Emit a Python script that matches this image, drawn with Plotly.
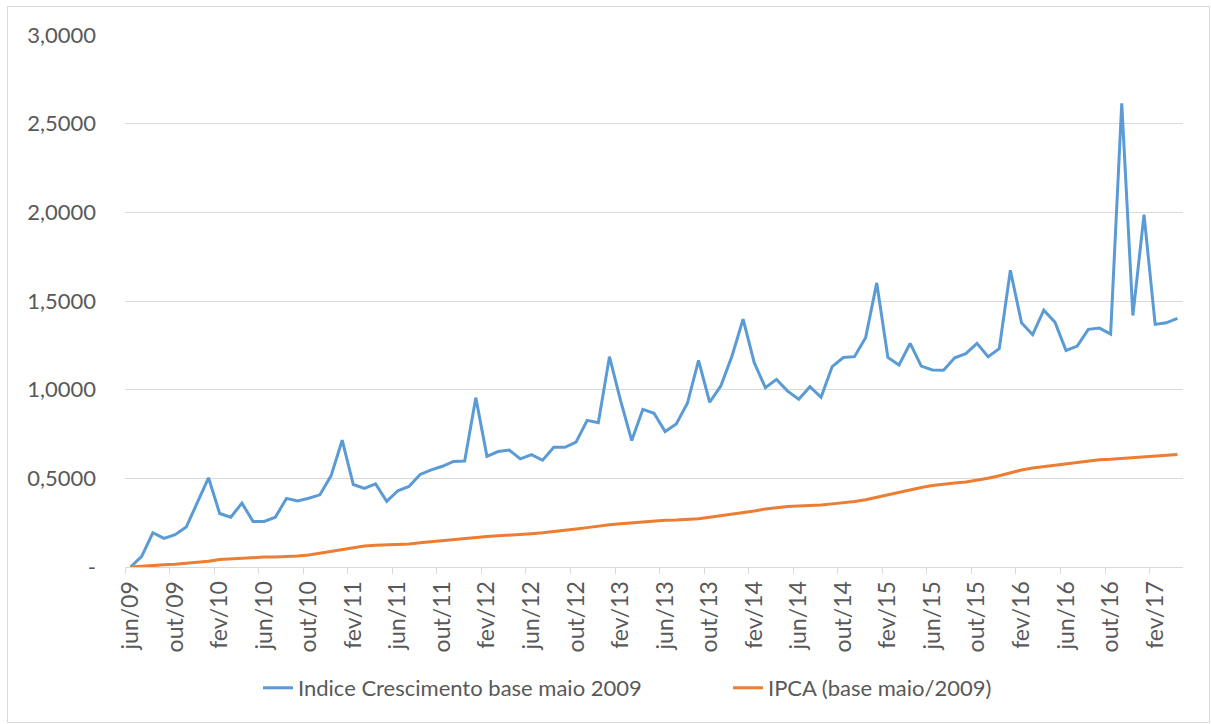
import plotly.graph_objects as go

months_pt = ["jan", "fev", "mar", "abr", "mai", "jun", "jul", "ago", "set", "out", "nov", "dez"]
years = ["09", "10", "11", "12", "13", "14", "15", "16", "17"]
# monthly categories from jun/09 to abr/17
categories = [f"{m}/{y}" for y in years for m in months_pt][5:5 + 95]

indice_crescimento = [
    0.000, 0.060, 0.193, 0.161, 0.182, 0.225, 0.364, 0.503, 0.302, 0.281,
    0.360, 0.257, 0.257, 0.281, 0.387, 0.373, 0.388, 0.407, 0.514, 0.715,
    0.465, 0.443, 0.469, 0.370, 0.430, 0.454, 0.522, 0.548, 0.568, 0.595,
    0.598, 0.955, 0.624, 0.651, 0.660, 0.610, 0.634, 0.602, 0.675, 0.675,
    0.704, 0.827, 0.814, 1.186, 0.938, 0.713, 0.889, 0.867, 0.764, 0.807,
    0.923, 1.165, 0.929, 1.021, 1.189, 1.398, 1.152, 1.011, 1.058, 0.992,
    0.946, 1.017, 0.957, 1.130, 1.181, 1.186, 1.293, 1.602, 1.182, 1.139,
    1.261, 1.133, 1.111, 1.109, 1.180, 1.203, 1.261, 1.186, 1.231, 1.673,
    1.377, 1.310, 1.448, 1.381, 1.221, 1.246, 1.340, 1.347, 1.313, 2.615,
    1.418, 1.987, 1.368, 1.377, 1.402,
]

ipca = [
    0.000, 0.005, 0.008, 0.012, 0.015, 0.020, 0.025, 0.033, 0.042, 0.046,
    0.050, 0.054, 0.056, 0.057, 0.058, 0.062, 0.068, 0.078, 0.088, 0.098,
    0.108, 0.118, 0.122, 0.124, 0.126, 0.130, 0.137, 0.143, 0.149, 0.156,
    0.163, 0.169, 0.172, 0.176, 0.179, 0.184, 0.188, 0.193, 0.199, 0.206,
    0.214, 0.222, 0.231, 0.238, 0.244, 0.250, 0.256, 0.261, 0.264, 0.265,
    0.267, 0.272, 0.280, 0.288, 0.297, 0.306, 0.316, 0.327, 0.335, 0.341,
    0.344, 0.346, 0.350, 0.356, 0.362, 0.369, 0.379, 0.393, 0.408, 0.424,
    0.437, 0.448, 0.459, 0.468, 0.474, 0.479, 0.488, 0.500, 0.515, 0.531,
    0.547, 0.558, 0.566, 0.575, 0.585, 0.592, 0.600, 0.605, 0.607, 0.611,
    0.614, 0.619, 0.624, 0.629, 0.634,
]

y_tickvals = [0, 0.5, 1.0, 1.5, 2.0, 2.5, 3.0]
y_ticktext = ["-", "0,5000", "1,0000", "1,5000", "2,0000", "2,5000", "3,0000"]

series_names = ["Indice Crescimento base maio 2009", "IPCA (base maio/2009)"]
series_colors = ["#5B9BD5", "#ED7D31"]

FONT = "Lato"
TXT = "#595959"

fig = go.Figure()
for name, vals, col in zip(series_names, [indice_crescimento, ipca], series_colors):
    fig.add_trace(go.Scatter(
        x=categories, y=vals, mode="lines", name=name,
        line=dict(color=col, width=3),
    ))

W, H = 1211, 724
ml, mr, mt, mb = 125, 28, 35, 157
pw = W - ml - mr
ph = H - mt - mb

def px_to_paper_x(px):
    return (px - ml) / pw

def px_to_paper_y(py):
    return (H - mb - py) / ph

fig.update_layout(
    width=W, height=H,
    margin=dict(l=ml, r=mr, t=mt, b=mb),
    paper_bgcolor="white", plot_bgcolor="white",
    font=dict(family=FONT, size=22, color=TXT),
    showlegend=True,
    legend=dict(
        orientation="h",
        x=px_to_paper_x(258), xanchor="left",
        y=px_to_paper_y(688), yanchor="middle",
        font=dict(family=FONT, size=22, color=TXT),
        entrywidth=425,
        bgcolor="rgba(0,0,0,0)",
    ),
    xaxis=dict(
        type="category",
        categoryorder="array", categoryarray=categories,
        range=[-0.5, len(categories) - 0.5],
        tickmode="linear", tick0=0, dtick=4,
        tickson="boundaries",
        ticks="outside", ticklen=6, tickcolor="#d9d9d9", tickwidth=1,
        tickangle=-90, ticklabelstandoff=4,
        tickfont=dict(family=FONT, size=23, color=TXT),
        showline=True, linecolor="#d9d9d9", linewidth=1,
        showgrid=False, zeroline=False,
    ),
    yaxis=dict(
        range=[0, 3.0],
        tickmode="array", tickvals=y_tickvals, ticktext=y_ticktext,
        ticks="", ticklabelstandoff=28,
        tickfont=dict(family=FONT, size=22, color=TXT),
        showgrid=True, gridcolor="#d9d9d9", gridwidth=1,
        showline=False, zeroline=False,
    ),
    shapes=[dict(
        type="rect", xref="paper", yref="paper",
        x0=px_to_paper_x(7.5), x1=px_to_paper_x(1209.5),
        y0=px_to_paper_y(722.5), y1=px_to_paper_y(6.5),
        line=dict(color="#d9d9d9", width=1), fillcolor="rgba(0,0,0,0)",
        layer="below",
    )],
)

fig.write_html("out.html")
